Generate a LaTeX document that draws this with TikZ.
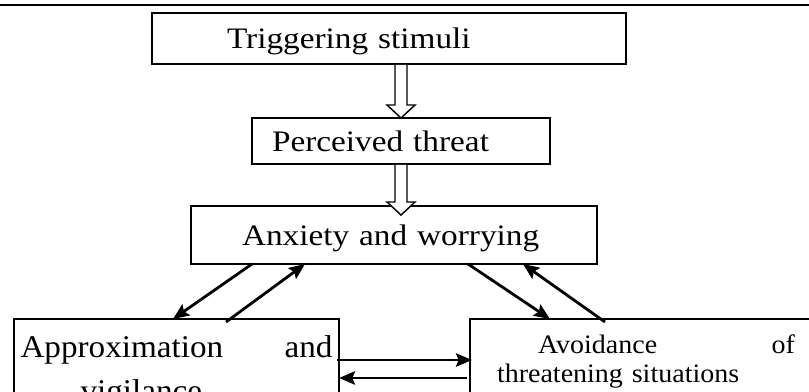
\documentclass[tikz,border=0pt]{standalone}
\usepackage{fontspec}
\setmainfont{Liberation Serif}
\newfontfamily\widefont{Liberation Serif}[FakeStretch=1.12]
\newfontfamily\lowfont{Liberation Serif}[FakeStretch=1.05]
\usetikzlibrary{arrows.meta,calc}

\begin{document}
\begin{tikzpicture}[
        x=0.75pt, y=-0.75pt,
        stage/.style={draw, rectangle, line width=1.3pt, outer sep=0pt, align=left},
        upper/.style={stage, text depth=0pt, font={\widefont\fontsize{22.3}{26}\selectfont}},
        pointer/.style={line width=2.1pt, -{Stealth[length=12pt,width=10pt,inset=2pt]}},
        openarrow/.style={draw, fill=white, line width=1.1pt}
    ]
	\useasboundingbox (0,0) rectangle (809,392);
	\clip (0,0) rectangle (809,392);
	\draw[line width=1.6pt] (0,5) -- (809,5);

	\node[upper, line width=1.6pt, minimum width=355.5pt, minimum height=38.25pt, text width=243pt, inner xsep=56.25pt] (trig) at (389,38.5) {Triggering stimuli};
	\node[upper, minimum width=223.5pt, minimum height=34.5pt, text width=193.5pt, inner xsep=15pt] (threat) at (401,141) {Perceived threat};
	\node[upper, minimum width=304.5pt, minimum height=43.5pt, text width=228pt, inner xsep=38.25pt] (anxiety) at (394,235) {Anxiety and worrying};
	\node[stage, anchor=north west, minimum width=243.75pt, text width=234pt, inner xsep=0.75pt, inner ysep=12.3pt, font={\lowfont\fontsize{23.7}{33}\selectfont}] (approach) at (14,319) {Approximation\hfill and\\\hspace*{45pt}vigilance};
	\node[stage, anchor=north west, text width=223.5pt, inner xsep=20.25pt, inner ysep=11.9pt, font={\lowfont\fontsize{20}{21.75}\selectfont}] (avoid) at (470,319) {\hspace*{30.75pt}Avoidance\hfill of\\threatening situations};

	\coordinate (anxtip) at ($(threat.south |- anxiety.north)+(0,9)$);
	\foreach \a/\b in {trig/threat.north, threat/anxtip}
		{
		   \draw[openarrow] let \p1=(\a.south -| \b), \p2=(\b) in
		      (\x1-4.5pt,\y1-0.7pt) -- (\x1-4.5pt,\y2+9.75pt) -- (\x1-10.5pt,\y2+9.75pt) -- (\x1,\y2)
		      -- (\x1+10.5pt,\y2+9.75pt) -- (\x1+4.5pt,\y2+9.75pt) -- (\x1+4.5pt,\y1-0.7pt);
		};

	\draw[pointer] ($(anxiety.south west)+(61,0)$) -- ($(approach.north west)+(159,0)$);
	\draw[pointer] ($(approach.north west)+(212,3)$) -- ($(anxiety.south west)+(114,0)$);
	\draw[pointer] ($(anxiety.south west)+(277,0)$) -- ($(avoid.north west)+(80,0)$);
	\draw[pointer] ($(avoid.north west)+(135,3)$) -- ($(anxiety.south west)+(332,0)$);
	\draw[pointer] ($(approach.north east)+(-2,41)$) -- ($(avoid.north west)+(2,41)$);
	\draw[pointer] ($(avoid.north west)+(-3,59)$) -- ($(approach.north east)+(0,59)$);
\end{tikzpicture}
\end{document}
